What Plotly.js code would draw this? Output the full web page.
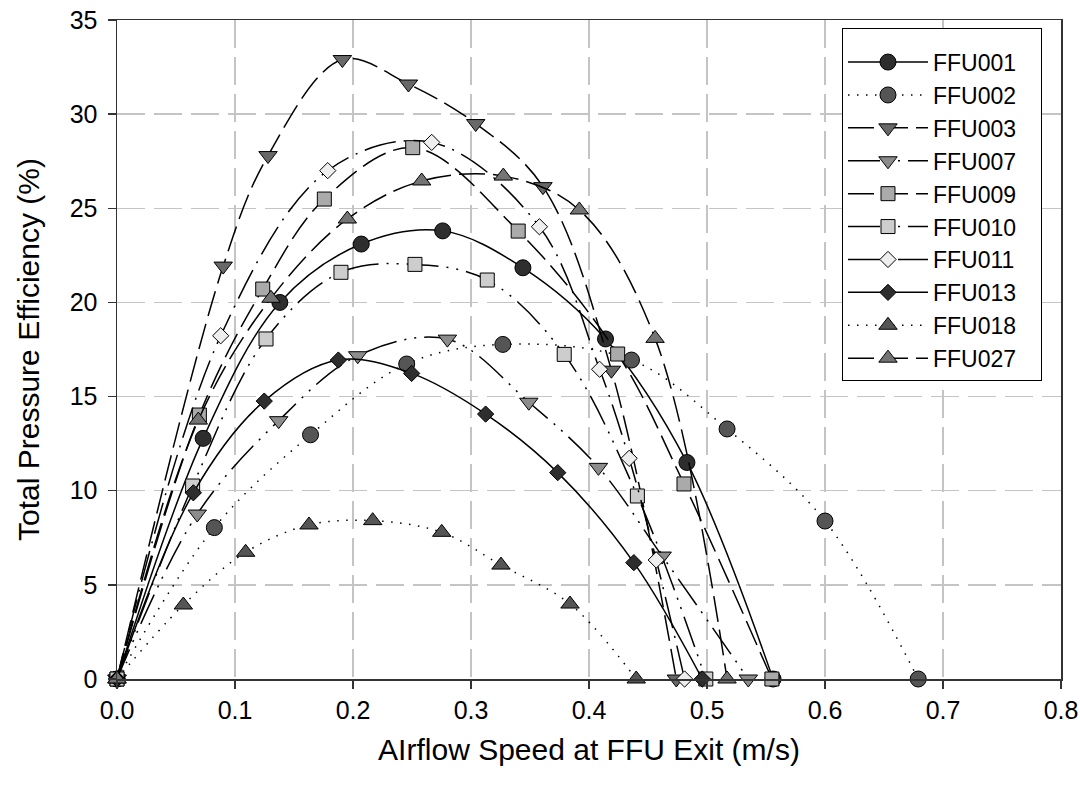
<!DOCTYPE html>
<html>
<head>
<meta charset="utf-8">
<script src="https://cdn.plot.ly/plotly-3.0.1.min.js"></script>
<style>html,body{margin:0;padding:0;background:#fff;}#chart{width:1080px;height:788px;}</style>
</head>
<body>
<div id="chart"></div>
<script>
// Data
const seriesNames = ["FFU001","FFU002","FFU003","FFU007","FFU009","FFU010","FFU011","FFU013","FFU018","FFU027"];

const ffu001X = [0, 0.073, 0.138, 0.207, 0.276, 0.344, 0.414, 0.483, 0.556];
const ffu001Y = [0, 12.78, 20.0, 23.1, 23.8, 21.84, 18.06, 11.5, 0];

const ffu002X = [0, 0.0825, 0.164, 0.2455, 0.327, 0.436, 0.517, 0.600, 0.679];
const ffu002Y = [0, 8.04, 12.97, 16.73, 17.77, 16.94, 13.28, 8.39, 0];

const ffu003X = [0, 0.090, 0.128, 0.191, 0.247, 0.304, 0.361, 0.419, 0.474];
const ffu003Y = [0, 21.93, 27.8, 32.9, 31.6, 29.5, 26.15, 16.4, 0];

const ffu007X = [0, 0.068, 0.137, 0.204, 0.280, 0.349, 0.408, 0.462, 0.535];
const ffu007Y = [0, 8.76, 13.72, 17.17, 18.05, 14.7, 11.24, 6.53, 0];

const ffu009X = [0, 0.0698, 0.1235, 0.1757, 0.2506, 0.340, 0.4243, 0.4805, 0.555];
const ffu009Y = [0, 14.02, 20.71, 25.49, 28.22, 23.79, 17.26, 10.36, 0];

const ffu010X = [0, 0.0641, 0.1263, 0.1898, 0.2525, 0.3138, 0.379, 0.441, 0.499];
const ffu010Y = [0, 10.25, 18.06, 21.6, 22.02, 21.19, 17.24, 9.72, 0];

const ffu011X = [0, 0.0879, 0.1786, 0.2667, 0.358, 0.409, 0.434, 0.457, 0.481];
const ffu011Y = [0, 18.23, 27.0, 28.5, 24.02, 16.45, 11.72, 6.32, 0];

const ffu013X = [0, 0.0647, 0.1248, 0.1876, 0.2497, 0.3124, 0.3735, 0.438, 0.496];
const ffu013Y = [0, 9.89, 14.76, 16.94, 16.23, 14.07, 10.96, 6.18, 0];

const ffu018X = [0, 0.0562, 0.109, 0.1627, 0.2167, 0.2752, 0.3254, 0.3839, 0.440];
const ffu018Y = [0, 3.93, 6.73, 8.18, 8.41, 7.79, 6.05, 3.98, 0];

const ffu027X = [0, 0.0689, 0.1305, 0.1952, 0.2582, 0.3274, 0.3918, 0.456, 0.517];
const ffu027Y = [0, 13.75, 20.22, 24.43, 26.45, 26.71, 24.91, 18.09, 0];

const xTickVals = [0, 0.1, 0.2, 0.3, 0.4, 0.5, 0.6, 0.7, 0.8];
const xTickText = ["0.0","0.1","0.2","0.3","0.4","0.5","0.6","0.7","0.8"];
const yTickVals = [0, 5, 10, 15, 20, 25, 30, 35];
const yTickText = ["0","5","10","15","20","25","30","35"];

const xs = [ffu001X, ffu002X, ffu003X, ffu007X, ffu009X, ffu010X, ffu011X, ffu013X, ffu018X, ffu027X];
const ys = [ffu001Y, ffu002Y, ffu003Y, ffu007Y, ffu009Y, ffu010Y, ffu011Y, ffu013Y, ffu018Y, ffu027Y];

// Styles
const symbols = ["circle","circle","triangle-down","triangle-down","square","square","diamond","diamond","triangle-up","triangle-up"];
const fills = ["#2e2e2e","#555555","#686868","#8c8c8c","#aaaaaa","#cdcdcd","#eeeeee","#2e2e2e","#555555","#747474"];
const sizes = [16, 16, 16, 16, 14, 14, 12.5, 12.5, 16, 16];
const dashes = ["solid","1.5px,7.5px","26px,8px","32px,8px,2px,8px,2px,8px","26px,8px","32px,8px,2px,8px,2px,8px","32px,8px,2px,8px","solid","1.5px,7.5px","26px,8px"];

const FONT = "Arial, 'Liberation Sans', sans-serif";
const PAD = "\u00a0\u00a0\u00a0";

const traces = seriesNames.map((name, i) => ({
  type: "scatter",
  mode: "lines+markers",
  name: name + PAD,
  x: xs[i],
  y: ys[i],
  cliponaxis: false,
  line: {shape: "spline", smoothing: 1, color: "#000000", width: 1.5, dash: dashes[i]},
  marker: {symbol: symbols[i], size: sizes[i], color: fills[i], line: {color: "#000000", width: 1}}
}));

const layout = {
  width: 1080,
  height: 788,
  paper_bgcolor: "#ffffff",
  plot_bgcolor: "#ffffff",
  margin: {l: 117, r: 19, t: 20, b: 109, pad: 0},
  font: {family: FONT, color: "#000000", size: 22},
  showlegend: true,
  legend: {
    x: 0.768, y: 0.988, xanchor: "left", yanchor: "top",
    bgcolor: "#ffffff", bordercolor: "#000000", borderwidth: 1,
    font: {family: FONT, size: 23, color: "#000000"},
    itemwidth: 80, tracegroupgap: 0,
    title: {text: "\u00a0", font: {family: FONT, size: 9}}
  },
  xaxis: {
    range: [0, 0.8],
    tickvals: xTickVals, ticktext: xTickText,
    ticks: "outside", ticklen: 8, tickwidth: 1.5, tickcolor: "#333333",
    showline: true, linecolor: "#333333", linewidth: 1.5, mirror: true,
    showgrid: true, gridcolor: "#c4c4c4", gridwidth: 1.5, griddash: "28px,9px",
    zeroline: false,
    tickfont: {family: FONT, size: 25, color: "#000000"},
    title: {text: "AIrflow Speed at FFU Exit (m/s)", font: {family: FONT, size: 30, color: "#000000"}, standoff: 16}
  },
  yaxis: {
    range: [0, 35],
    tickvals: yTickVals, ticktext: yTickText,
    ticks: "outside", ticklen: 8, tickwidth: 1.5, tickcolor: "#333333",
    showline: true, linecolor: "#333333", linewidth: 1.5, mirror: true,
    showgrid: true, gridcolor: "#c4c4c4", gridwidth: 1.5, griddash: "28px,9px",
    zeroline: false,
    ticklabelstandoff: 5,
    tickfont: {family: FONT, size: 25, color: "#000000"},
    title: {text: "Total Pressure Efficiency (%)", font: {family: FONT, size: 30, color: "#000000"}, standoff: 21}
  }
};

Plotly.newPlot("chart", traces, layout, {displayModeBar: false, staticPlot: true});
</script>
</body>
</html>
